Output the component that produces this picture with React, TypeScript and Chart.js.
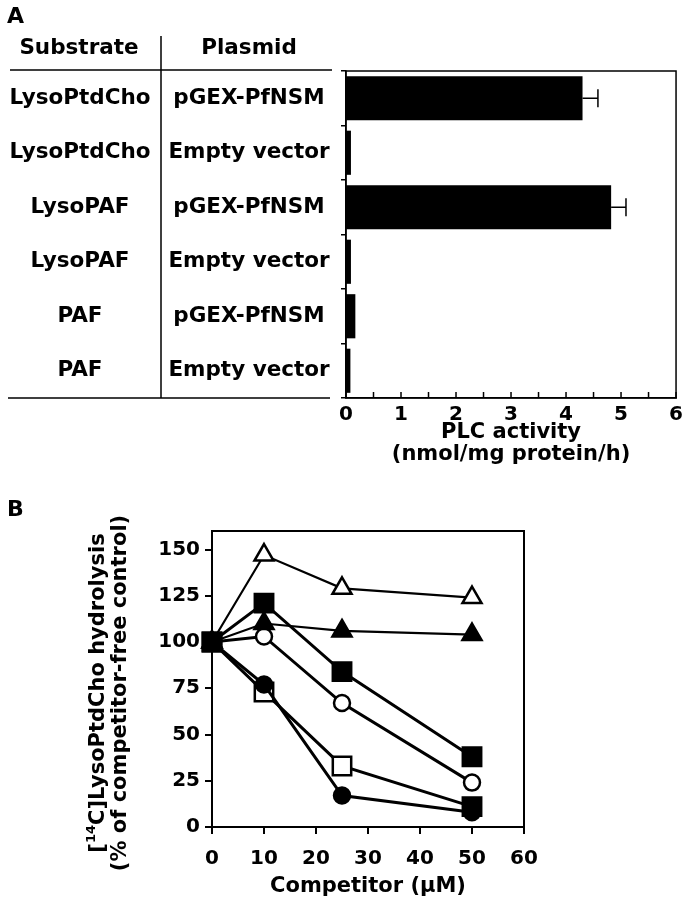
import React, { useEffect, useRef } from 'react';
import { Chart, registerables } from 'chart.js';

Chart.register(...registerables);

// ---------- Panel A data ----------
const substrates = ['LysoPtdCho', 'LysoPtdCho', 'LysoPAF', 'LysoPAF', 'PAF', 'PAF'];
const plasmids = ['pGEX-PfNSM', 'Empty vector', 'pGEX-PfNSM', 'Empty vector', 'pGEX-PfNSM', 'Empty vector'];
const plcActivity = [4.3, 0.09, 4.82, 0.09, 0.17, 0.08];
const plcError = [0.28, 0, 0.27, 0, 0, 0];
const plcAxisMax = 6;

// ---------- Panel B data ----------
const competitorUM = [0, 10, 25, 50];
const filledSquareA = [100, 121, 84, 38];
const openTriangle = [100, 147, 129, 124];
const filledTriangle = [100, 110, 106, 104];
const openCircle = [100, 103, 67, 24];
const openSquare = [100, 73, 33, 11];
const filledCircle = [100, 77, 17, 8];

const FAMILY = '"DejaVu Sans", "Liberation Sans", Arial, sans-serif';
const bold = (size: number, lineHeight = 1.2) => ({ family: FAMILY, size, weight: 'bold' as const, lineHeight });

const framePlugin = (width: number) => ({
  id: 'frame',
  afterDatasetsDraw(chart: any) {
    const { ctx, chartArea } = chart;
    ctx.save();
    ctx.strokeStyle = '#000';
    ctx.lineWidth = width;
    ctx.strokeRect(chartArea.left, chartArea.top, chartArea.right - chartArea.left, chartArea.bottom - chartArea.top);
    ctx.restore();
  },
});

const tablePlugin = {
  id: 'table',
  afterDraw(chart: any) {
    const { ctx, chartArea, scales } = chart;
    const ys = scales.y;
    ctx.save();
    ctx.fillStyle = '#000';
    ctx.strokeStyle = '#000';
    ctx.textBaseline = 'middle';
    ctx.textAlign = 'left';
    ctx.font = `bold 22px ${FAMILY}`;
    ctx.fillText('A', 7, 17);
    ctx.textAlign = 'center';
    ctx.font = `bold 21.5px ${FAMILY}`;
    ctx.fillText('Substrate', 79, 48);
    ctx.fillText('Plasmid', 249, 48);
    substrates.forEach((s, i) => {
      const py = ys.getPixelForValue(i);
      ctx.fillText(s, 80, py);
      ctx.fillText(plasmids[i], 249, py);
    });
    ctx.lineWidth = 1.5;
    ctx.beginPath();
    ctx.moveTo(10, chartArea.top - 1);
    ctx.lineTo(332, chartArea.top - 1);
    ctx.moveTo(8, chartArea.bottom);
    ctx.lineTo(330, chartArea.bottom);
    ctx.moveTo(161, 36);
    ctx.lineTo(161, chartArea.bottom);
    ctx.stroke();
    ctx.restore();
  },
};

const errorBarPlugin = {
  id: 'errbars',
  afterDatasetsDraw(chart: any) {
    const { ctx, scales } = chart;
    const meta = chart.getDatasetMeta(0);
    ctx.save();
    ctx.strokeStyle = '#000';
    ctx.lineWidth = 1.5;
    plcError.forEach((e, i) => {
      if (!e) return;
      const yc = meta.data[i].y;
      const x0 = scales.x.getPixelForValue(plcActivity[i]);
      const x1 = scales.x.getPixelForValue(plcActivity[i] + e);
      ctx.beginPath();
      ctx.moveTo(x0, yc);
      ctx.lineTo(x1, yc);
      ctx.moveTo(x1, yc - 9);
      ctx.lineTo(x1, yc + 9);
      ctx.stroke();
    });
    ctx.restore();
  },
};

const minorTickPlugin = {
  id: 'minorTicks',
  afterDatasetsDraw(chart: any) {
    const { ctx, scales, chartArea } = chart;
    const xs = scales.x;
    ctx.save();
    ctx.strokeStyle = '#000';
    ctx.lineWidth = 1.5;
    ctx.beginPath();
    for (let v = xs.min; v <= xs.max + 1e-9; v += 0.5) {
      const px = xs.getPixelForValue(v);
      ctx.moveTo(px, chartArea.bottom);
      ctx.lineTo(px, chartArea.bottom - 6);
    }
    ctx.stroke();
    ctx.restore();
  },
};

const panelBTextPlugin = {
  id: 'panelBText',
  afterDraw(chart: any) {
    const { ctx, chartArea } = chart;
    ctx.save();
    ctx.fillStyle = '#000';
    ctx.textBaseline = 'middle';
    ctx.textAlign = 'left';
    ctx.font = `bold 22px ${FAMILY}`;
    ctx.fillText('B', 7, 40);
    const cy = (chartArea.top + chartArea.bottom) / 2 + 14;
    // line 1 with superscript
    ctx.save();
    ctx.translate(99, cy);
    ctx.rotate(-Math.PI / 2);
    const big = `bold 21px ${FAMILY}`;
    const small = `bold 13px ${FAMILY}`;
    const p1 = '[';
    const p2 = '14';
    const p3 = 'C]LysoPtdCho hydrolysis';
    ctx.font = big;
    const w1 = ctx.measureText(p1).width;
    const w3 = ctx.measureText(p3).width;
    ctx.font = small;
    const w2 = ctx.measureText(p2).width;
    let x = -(w1 + w2 + w3) / 2;
    ctx.font = big;
    ctx.fillText(p1, x, 0);
    x += w1;
    ctx.font = small;
    ctx.fillText(p2, x, -7);
    x += w2;
    ctx.font = big;
    ctx.fillText(p3, x, 0);
    ctx.restore();
    // line 2
    ctx.save();
    ctx.translate(121, cy);
    ctx.rotate(-Math.PI / 2);
    ctx.font = big;
    ctx.textAlign = 'center';
    ctx.fillText('(% of competitor-free control)', 0, 0);
    ctx.restore();
    ctx.restore();
  },
};

const series = (vals: number[], style: string, fill: string | string[], radius: number, lineW: number) => ({
  data: competitorUM.map((x, i) => ({ x, y: vals[i] })),
  showLine: true,
  borderColor: '#000',
  borderWidth: lineW,
  pointStyle: style,
  pointRadius: radius,
  pointBackgroundColor: fill,
  pointBorderColor: '#000',
  pointBorderWidth: 2.5,
  clip: false as const,
});

export default function App() {
  const refA = useRef<HTMLCanvasElement>(null);
  const refB = useRef<HTMLCanvasElement>(null);

  useEffect(() => {
    const chartA = new Chart(refA.current!, {
      type: 'bar',
      data: {
        labels: substrates.map((s, i) => `${s} ${plasmids[i]}`),
        datasets: [
          {
            data: plcActivity,
            backgroundColor: '#000',
            borderWidth: 0,
            barPercentage: 0.81,
            categoryPercentage: 1,
          },
        ],
      },
      options: {
        indexAxis: 'y',
        animation: false,
        responsive: false,
        layout: { padding: { left: 0, right: 6, top: 71, bottom: 0 } },
        plugins: { legend: { display: false }, tooltip: { enabled: false } },
        scales: {
          x: {
            type: 'linear',
            min: 0,
            max: plcAxisMax,
            ticks: { stepSize: 1, color: '#000', font: bold(20), padding: 5 },
            grid: { display: false, drawTicks: false },
            border: { display: true, color: '#000', width: 1.5 },
            title: {
              display: true,
              text: ['PLC activity', '(nmol/mg protein/h)'],
              color: '#000',
              font: bold(21, 1.05),
              padding: { top: 0, bottom: 4 },
            },
            afterFit: (s: any) => {
              s.height = 72;
            },
          },
          y: {
            type: 'category',
            ticks: { display: false },
            grid: { display: true, drawOnChartArea: false, drawTicks: true, tickLength: 5, color: '#000', lineWidth: 1.5, offset: true },
            border: { display: true, color: '#000', width: 1.5 },
            afterFit: (s: any) => {
              s.width = 346;
            },
          },
        },
      } as any,
      plugins: [tablePlugin, errorBarPlugin, minorTickPlugin, framePlugin(1.5)],
    });

    const chartB = new Chart(refB.current!, {
      type: 'scatter',
      data: {
        datasets: [
          series(filledSquareA, 'rect', '#000', 13, 3),
          series(openTriangle, 'triangle', '#fff', 11, 2.2),
          series(filledTriangle, 'triangle', '#000', 11, 2.2),
          series(openCircle, 'circle', '#fff', 8, 3),
          series(filledCircle, 'circle', '#000', 8, 3),
          series(openSquare, 'rect', ['#fff', '#fff', '#fff', '#000'], 13, 3),
        ] as any,
      },
      options: {
        animation: false,
        responsive: false,
        layout: { padding: { left: 0, right: 164, top: 61, bottom: 0 } },
        plugins: { legend: { display: false }, tooltip: { enabled: false } },
        scales: {
          x: {
            type: 'linear',
            min: 0,
            max: 60,
            ticks: { stepSize: 10, color: '#000', font: bold(20), padding: 13 },
            grid: { drawOnChartArea: false, drawTicks: true, tickLength: 7, color: '#000', lineWidth: 2 },
            border: { display: true, color: '#000', width: 2 },
            title: { display: true, text: 'Competitor (µM)', color: '#000', font: bold(21), padding: { top: 0, bottom: 1 } },
            afterFit: (s: any) => {
              s.height = 73;
            },
          },
          y: {
            type: 'linear',
            min: 0,
            max: 160,
            ticks: { stepSize: 25, includeBounds: false, color: '#000', font: bold(20), padding: 5 },
            grid: { drawOnChartArea: false, drawTicks: true, tickLength: 7, color: '#000', lineWidth: 2 },
            border: { display: true, color: '#000', width: 2 },
            afterFit: (s: any) => {
              s.width = 212;
            },
          },
        },
      } as any,
      plugins: [framePlugin(2), panelBTextPlugin],
    });

    return () => {
      chartA.destroy();
      chartB.destroy();
    };
  }, []);

  return (
    <div style={{ position: 'absolute', left: 0, top: 0, width: 688, height: 900, background: '#fff' }}>
      <canvas ref={refA} width={688} height={470} style={{ display: 'block', width: 688, height: 470 }} />
      <canvas ref={refB} width={688} height={430} style={{ display: 'block', width: 688, height: 430 }} />
    </div>
  );
}
